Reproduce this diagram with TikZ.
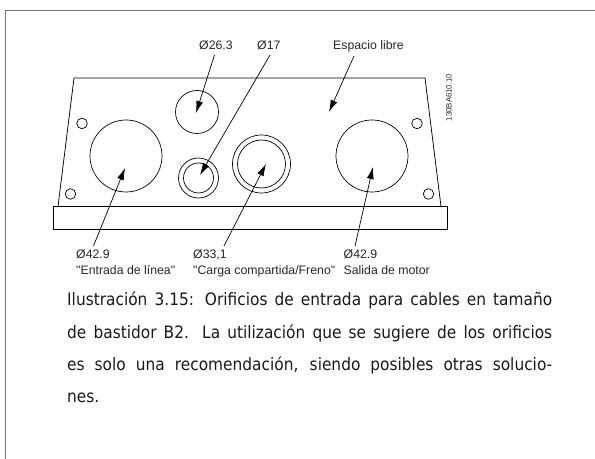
\documentclass[tikz,border=0pt]{standalone}
\usepackage{fontspec}
\setmainfont{Liberation Sans}
\newfontfamily\lblfont{Liberation Sans}
\newfontfamily\capfont[FakeStretch=0.9]{DejaVu Sans}
\usetikzlibrary{arrows.meta}
\tikzset{
  edge/.style={draw=black,line width=0.75bp},
  framel/.style={draw=black!55,line width=1.1bp},
  ptr/.style={draw=black,line width=0.7bp,-{Latex[length=12bp,width=7bp]}},
  lbl/.style={inner sep=0,anchor=base west,font=\lblfont\fontsize{12.3bp}{14bp}\selectfont,text=black!85},
  hole/.style={circle,draw=black,line width=0.7bp,inner sep=0,minimum size=#1},
}
\begin{document}
\begin{tikzpicture}[x=1bp,y=-1bp]
\useasboundingbox (0,0) rectangle (595,459);
\draw[framel] (5.5,459) -- (5.5,10.5) -- (595,10.5);
% plate
\draw[edge] (58,206.5) -- (74,78) -- (425,78) -- (441,206.5);
\draw[edge,line width=0.85bp] (53,206.5) rectangle (447,229);
% holes
\node[hole=72bp] (h1) at (126,156) {};
\node[hole=72bp] (h2) at (372,156) {};
\node[hole=43bp] (h3) at (197,112) {};
\node[hole=40bp] (h4o) at (198.5,178) {};
\node[hole=30bp] (h4i) at (198.5,178) {};
\node[hole=58bp] (h5o) at (261.5,164) {};
\node[hole=48bp] (h5i) at (261.5,164) {};
\node[hole=10.5bp] (s1) at (82,123.5) {};
\node[hole=10.5bp] (s2) at (70.5,194) {};
\node[hole=10.5bp] (s3) at (417,123.5) {};
\node[hole=10.5bp] (s4) at (428.5,194) {};
% labels
\node[lbl] (l1) at (199,50) {Ø26.3};
\node[lbl] (l2) at (257,50) {Ø17};
\node[lbl] (l3) at (333,50) {Espacio libre};
\node[lbl] (l4) at (76,259) {Ø42.9};
\node[lbl] (l5) at (76,275) {"Entrada de línea"};
\node[lbl] (l6) at (193,259) {Ø33,1};
\node[lbl] (l7) at (193,275) {"Carga compartida/Freno"};
\node[lbl] (l8) at (343.5,259) {Ø42.9};
\node[lbl] (l9) at (343.5,275) {Salida de motor};
\node[inner sep=0,anchor=center,rotate=90,font=\lblfont\fontsize{7.8bp}{8bp}\selectfont,text=black!85] (code) at (449,97.5) {130BA610.10};
% pointers
\coordinate (a1s) at (214.5,55); \coordinate (a1e) at (196,113);
\coordinate (a2s) at (270,55);   \coordinate (a2e) at (200,175);
\coordinate (a3s) at (354,56);   \coordinate (a3e) at (329,112);
\coordinate (a4s) at (93.5,246); \coordinate (a4e) at (125,168);
\coordinate (a5s) at (224,246);  \coordinate (a5e) at (266,164);
\coordinate (a6s) at (355,246);  \coordinate (a6e) at (373,167);
\draw[ptr] (a1s) -- (a1e);
\draw[ptr] (a2s) -- (a2e);
\draw[ptr] (a3s) -- (a3e);
\draw[ptr] (a4s) -- (a4e);
\draw[ptr] (a5s) -- (a5e);
\draw[ptr] (a6s) -- (a6e);
% caption
\node[inner sep=0,anchor=north west,text width=485bp,align=justify,text=black!90] (cap) at (67,291.8) {\capfont\fontsize{17.1bp}{32.4bp}\selectfont Ilustración 3.15: Orificios de entrada para cables en tamaño\linebreak de bastidor B2. La utilización que se sugiere de los orificios\linebreak es solo una recomendación, siendo posibles otras solucio-\linebreak nes.\par};
\end{tikzpicture}
\end{document}
